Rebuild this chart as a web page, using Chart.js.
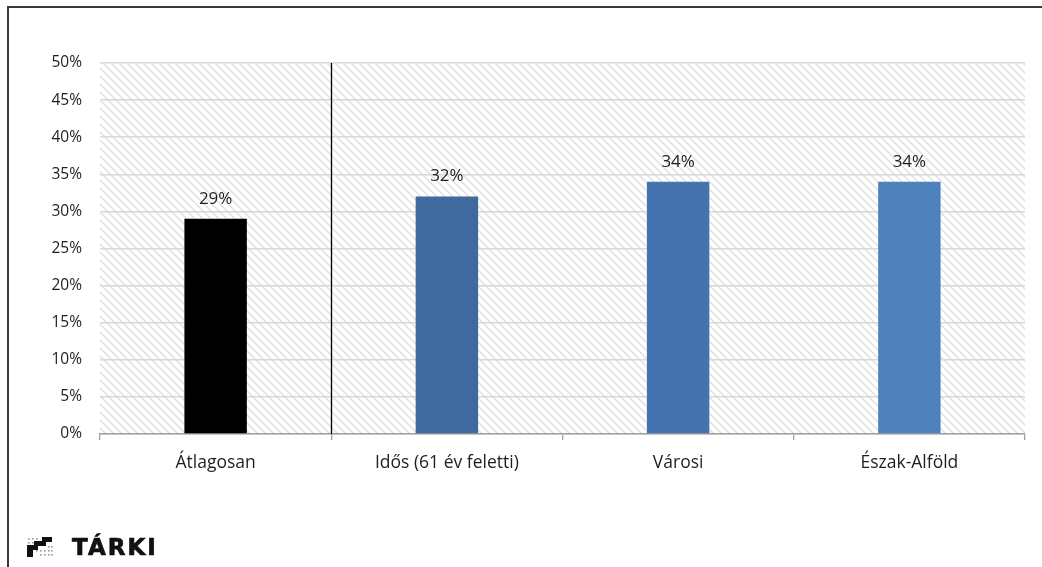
<!DOCTYPE html>
<html>
<head>
<meta charset="utf-8">
<script src="https://cdn.jsdelivr.net/npm/chart.js@4"></script>
<style>
  html, body { margin: 0; padding: 0; background: #fff; }
  body { width: 1042px; height: 567px; position: relative; overflow: hidden; }
  #frame { position: absolute; left: 7px; top: 6px; width: 1100px; height: 700px;
           border-top: 2px solid #3a3a3a; border-left: 2px solid #3a3a3a; }
  #wrap { position: absolute; left: 0; top: 0; width: 1042px; height: 567px; }
  #logo { position: absolute; left: 27px; top: 535px; height: 24px; display: flex; align-items: center; }
  #logo span { font-family: "DejaVu Sans", sans-serif; font-weight: bold; font-size: 23px;
               letter-spacing: 2px; color: #111; margin-left: 19px; line-height: 24px;
               -webkit-text-stroke: 0.7px #111; }
</style>
</head>
<body>
<div id="frame"></div>
<div id="wrap"><canvas id="c" width="1042" height="567"></canvas></div>
<div id="logo"><canvas id="mark" width="26" height="20"></canvas><span>TÁRKI</span></div>
<script>
// Categories and shares (in percent)
const categories = ['Átlagosan', 'Idős (61 év feletti)', 'Városi', 'Észak-Alföld'];
const shares = [29, 32, 34, 34];
const barColors = ['#000000', '#3f6a9d', '#4673ad', '#4f81bd'];
const yTicks = [0, 5, 10, 15, 20, 25, 30, 35, 40, 45, 50];

const FONT = '"Open Sans", Lato, sans-serif';
const TEXT = '#1e1e1e';

// Diagonal hatch for the plot background
function hatchPattern(ctx) {
  const t = document.createElement('canvas');
  t.width = 8; t.height = 8;
  const g = t.getContext('2d');
  g.fillStyle = '#ffffff';
  g.fillRect(0, 0, 8, 8);
  g.strokeStyle = '#e0e0e0';
  g.lineWidth = 1.5;
  g.beginPath();
  g.moveTo(-2, -2); g.lineTo(10, 10);
  g.moveTo(-2, 6); g.lineTo(2, 10);
  g.moveTo(6, -2); g.lineTo(10, 2);
  g.stroke();
  return ctx.createPattern(t, 'repeat');
}

const plotBackground = {
  id: 'plotBackground',
  beforeDraw(chart) {
    const { ctx, chartArea: a } = chart;
    ctx.save();
    ctx.fillStyle = hatchPattern(ctx);
    ctx.fillRect(a.left, a.top, a.right - a.left, a.bottom - a.top);
    ctx.restore();
  }
};

// Vertical divider between the average and the groups
const divider = {
  id: 'divider',
  afterDatasetsDraw(chart) {
    const { ctx, chartArea: a, scales } = chart;
    const x = Math.round((scales.x.getPixelForValue(0) + scales.x.getPixelForValue(1)) / 2) + 0.5;
    ctx.save();
    ctx.strokeStyle = '#000';
    ctx.lineWidth = 1.3;
    ctx.beginPath();
    ctx.moveTo(x, a.top);
    ctx.lineTo(x, a.bottom);
    ctx.stroke();
    ctx.restore();
  }
};

// Value labels above the bars
const valueLabels = {
  id: 'valueLabels',
  afterDatasetsDraw(chart) {
    const { ctx } = chart;
    const meta = chart.getDatasetMeta(0);
    ctx.save();
    ctx.font = '17px ' + FONT;
    ctx.fillStyle = TEXT;
    ctx.textAlign = 'center';
    ctx.textBaseline = 'middle';
    meta.data.forEach((bar, i) => {
      ctx.fillText(shares[i] + '%', bar.x, bar.y - 20);
    });
    ctx.restore();
  }
};

new Chart(document.getElementById('c'), {
  type: 'bar',
  data: {
    labels: categories,
    datasets: [{
      data: shares,
      backgroundColor: barColors,
      borderWidth: 0,
      categoryPercentage: 1,
      barPercentage: 0.27
    }]
  },
  options: {
    responsive: false,
    animation: false,
    events: [],
    layout: { padding: { left: 0, right: 17, top: 63, bottom: 0 } },
    plugins: { legend: { display: false }, tooltip: { enabled: false } },
    scales: {
      x: {
        grid: { display: true, drawOnChartArea: false, drawTicks: true, tickLength: 6,
                color: '#a0a0a0', lineWidth: 1.3, offset: true },
        border: { display: true, color: '#a0a0a0', width: 1.5 },
        ticks: { font: { family: FONT, size: 17.5 }, color: TEXT, padding: 13, maxRotation: 0 },
        afterFit(s) { s.height = 133; }
      },
      y: {
        min: 0, max: 50,
        afterBuildTicks(s) { s.ticks = yTicks.map(v => ({ value: v })); },
        grid: { color: '#d9d9d9', lineWidth: 1.6, drawTicks: false },
        border: { display: false },
        ticks: { font: { family: FONT, size: 15.5 }, color: TEXT, padding: 18,
                 callback: v => v + '%' },
        afterFit(s) { s.width = 100; }
      }
    }
  },
  plugins: [plotBackground, divider, valueLabels]
});

// Logo mark: stepped blocks with a dotted shade
(function () {
  const g = document.getElementById('mark').getContext('2d');
  g.fillStyle = '#9a9a9a';
  [[1,1],[5,1],[9,1],[1,5],[5,5],[9,13],[13,13],[17,13],[21,13],[13,17],[17,17],[21,17],[21,9],[24,9],[24,13],[24,17]].forEach(
    ([x, y]) => g.fillRect(x, y, 1.6, 1.6));
  g.fillStyle = '#111';
  g.fillRect(15, 0, 10, 5);
  g.fillRect(7, 4, 12, 5);
  g.fillRect(0, 8, 11, 5);
  g.fillRect(0, 12, 6, 8);
})();
</script>
</body>
</html>
